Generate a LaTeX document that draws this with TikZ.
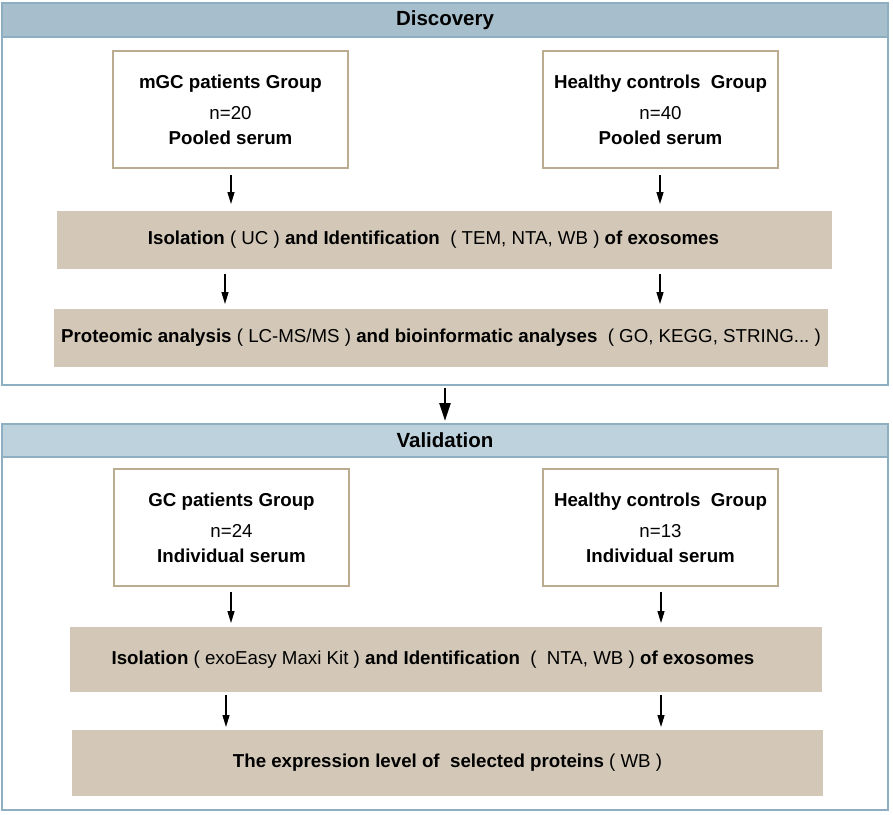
\documentclass[tikz,border=0pt]{standalone}
\usepackage{fontspec}
\setmainfont{Liberation Sans}
\usetikzlibrary{arrows.meta}
\definecolor{hdrA}{HTML}{A7BFCC}
\definecolor{hdrB}{HTML}{BDD2DC}
\definecolor{outerc}{HTML}{8EAEC2}
\definecolor{tanline}{HTML}{BCAC8F}
\definecolor{tanfill}{HTML}{D3C8B7}
\tikzset{
  outerbox/.style={draw=outerc, line width=1.8pt, fill=white},
  hdrbar/.style={draw=outerc, line width=1.8pt, font=\bfseries\fontsize{20.5}{24}\selectfont},
  groupbox/.style={draw=tanline, line width=1.8pt, fill=white, minimum width=235pt, minimum height=117pt, align=center, font=\bfseries\fontsize{18.7}{25}\selectfont, inner sep=0pt},
  stepbox/.style={fill=tanfill, inner sep=0pt, align=center, font=\bfseries\fontsize{18.7}{22}\selectfont},
  arr/.style={line width=1.3pt, -{Triangle[length=12pt,width=7pt]}},
  bigarr/.style={line width=2.6pt, -{Triangle[length=18pt,width=11pt]}}
}
\begin{document}
\begin{tikzpicture}[x=1pt,y=-1pt]
\useasboundingbox (0,0) rectangle (893,814);
% Discovery section
\draw[outerbox] (2,3) rectangle (888,385);
\node[hdrbar, fill=hdrA, minimum width=886pt, minimum height=34pt, inner sep=0pt] (dhdr) at (445,20) {Discovery};
\node[groupbox] (g1) at (230.5,109.5) {mGC patients Group\\[6pt]{\mdseries n=20}\\Pooled serum};
\node[groupbox] (g2) at (660.5,109.5) {Healthy controls~ Group\\[6pt]{\mdseries n=40}\\Pooled serum};
\node[stepbox, minimum width=775pt, minimum height=58pt] (s1) at (444.5,240) {\kern-22pt Isolation {\mdseries (~UC~)} and Identification ~{\mdseries (~TEM, NTA, WB~)} of exosomes};
\node[stepbox, minimum width=774pt, minimum height=58pt] (s2) at (441,338) {Proteomic analysis {\mdseries (~LC-MS/MS~)} and bioinformatic analyses ~{\mdseries (~GO, KEGG, STRING...~)}};
\coordinate (a1s) at (231,175);
\coordinate (a1e) at (231,204);
\coordinate (a2s) at (660,175);
\coordinate (a2e) at (660,204);
\draw[arr] (a1s) -- (a1e);
\draw[arr] (a2s) -- (a2e);
\coordinate (b1s) at (225,274);
\coordinate (b1e) at (225,304);
\coordinate (b2s) at (660,274);
\coordinate (b2e) at (660,304);
\draw[arr] (b1s) -- (b1e);
\draw[arr] (b2s) -- (b2e);
% big arrow
\coordinate (bigs) at (445,388);
\coordinate (bige) at (445,421);
\draw[bigarr] (bigs) -- (bige);
% Validation section
\draw[outerbox] (2,424) rectangle (888,810);
\node[hdrbar, fill=hdrB, minimum width=886pt, minimum height=33pt, inner sep=0pt] (vhdr) at (445,440.5) {Validation};
\node[groupbox] (g3) at (231.5,527.5) {GC patients Group\\[6pt]{\mdseries n=24}\\Individual serum};
\node[groupbox] (g4) at (660.5,527.5) {Healthy controls~ Group\\[6pt]{\mdseries n=13}\\Individual serum};
\node[stepbox, minimum width=752pt, minimum height=65pt] (s3) at (446,659.5) {\kern-26pt Isolation {\mdseries (~exoEasy Maxi Kit~)} and Identification ~{\mdseries (~~NTA, WB~)} of exosomes};
\node[stepbox, minimum width=751pt, minimum height=66pt] (s4) at (447.5,763) {The expression level of~ selected proteins {\mdseries (~WB~)}};
\coordinate (c1s) at (231,592);
\coordinate (c1e) at (231,623);
\coordinate (c2s) at (661,592);
\coordinate (c2e) at (661,623);
\draw[arr] (c1s) -- (c1e);
\draw[arr] (c2s) -- (c2e);
\coordinate (d1s) at (226,695);
\coordinate (d1e) at (226,727);
\coordinate (d2s) at (661,695);
\coordinate (d2e) at (661,727);
\draw[arr] (d1s) -- (d1e);
\draw[arr] (d2s) -- (d2e);
\end{tikzpicture}
\end{document}
